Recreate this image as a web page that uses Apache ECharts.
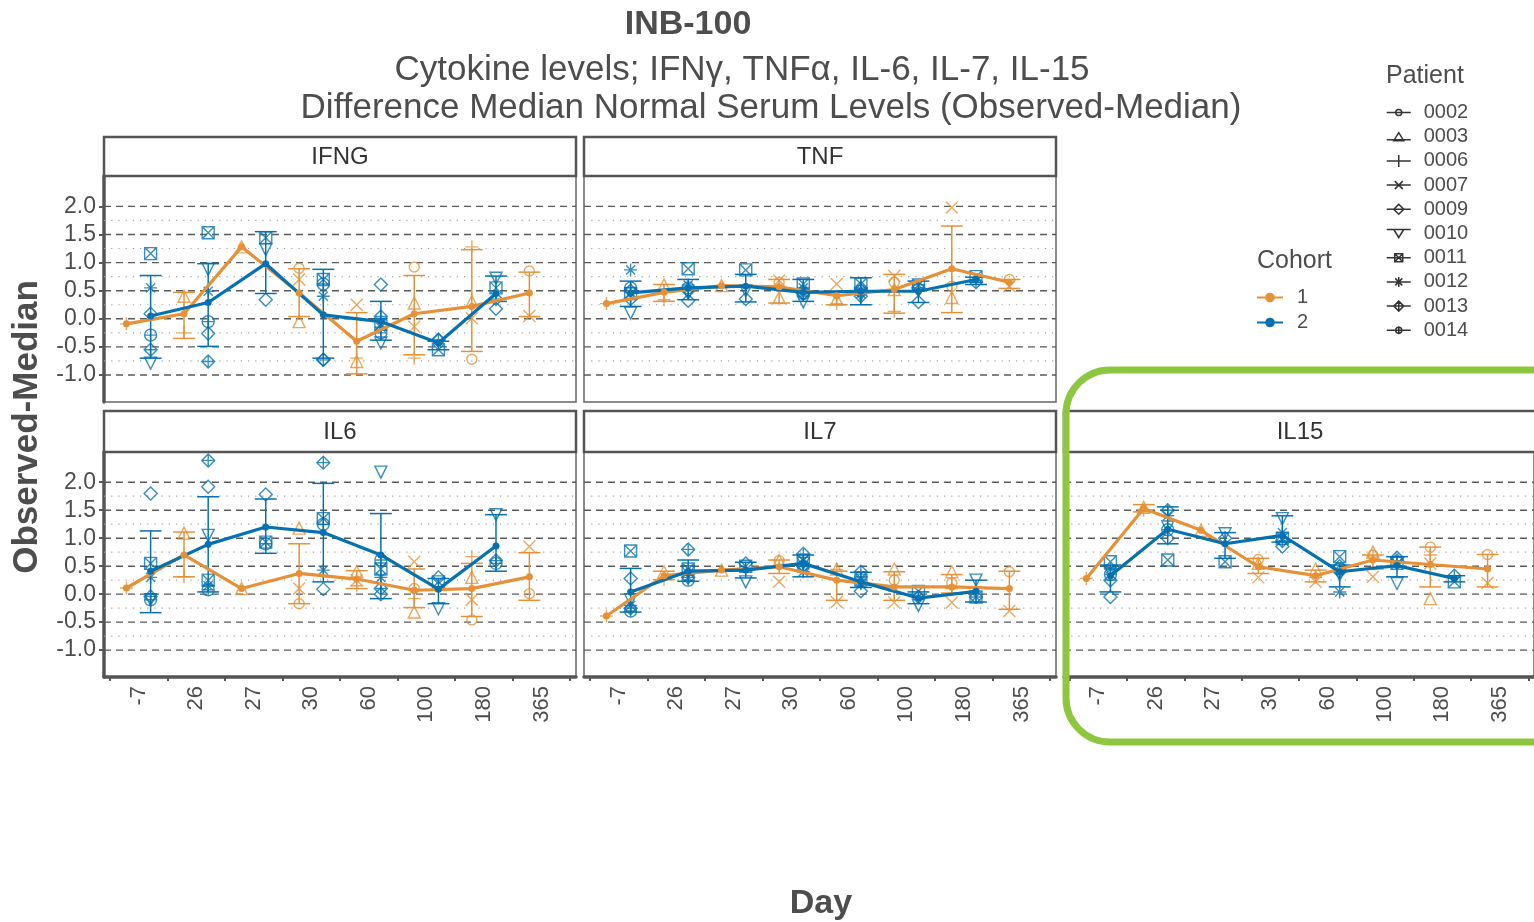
<!DOCTYPE html>
<html>
<head>
<meta charset="utf-8">
<script src="https://cdn.jsdelivr.net/npm/echarts@6.0.0/dist/echarts.min.js"></script>
<style>
  html, body { margin: 0; padding: 0; background: #fff; }
  #chart { width: 1534px; height: 922px; }
</style>
</head>
<body>
<div id="chart"></div>
<script>
// x categories (study day) and y breaks
const days = ['-7', '26', '27', '30', '60', '100', '180', '365'];
const majorBreaks = [2.0, 1.5, 1.0, 0.5, 0.0, -0.5, -1.0];
const minorBreaks = [1.75, 1.25, 0.75, 0.25, -0.25, -0.75];
const panelNames = ['IFNG', 'TNF', 'IL6', 'IL7', 'IL15'];
const patients = ['0002', '0003', '0006', '0007', '0009', '0010', '0011', '0012', '0013', '0014'];
const patientCohort = [1, 1, 1, 1, 2, 2, 2, 2, 2, 2];

// IFNG
const ifngMean1 = [-0.09, 0.09, 1.28, 0.46, -0.40, 0.09, 0.22, 0.46];
const ifngLo1 = [null, -0.35, null, 0.04, -0.98, -0.64, -0.58, 0.04];
const ifngHi1 = [null, 0.47, null, 0.89, 0.11, 0.77, 1.23, 0.83];
const ifngMean2 = [0.05, 0.29, 0.98, 0.07, -0.05, -0.43, 0.45, null];
const ifngLo2 = [-0.70, -0.49, 0.45, -0.70, -0.38, -0.55, 0.31, null];
const ifngHi2 = [0.77, 0.98, 1.55, 0.88, 0.31, -0.40, 0.76, null];
const ifngPts = [
  [null, null, null, 0.90, null, 0.92, -0.72, 0.85],
  [null, 0.40, 1.28, -0.05, -0.76, 0.28, 0.31, null],
  [-0.09, -0.25, null, null, -0.70, -0.70, 1.28, null],
  [null, null, null, 0.70, 0.25, -0.14, 0.01, 0.05],
  [0.09, -0.26, 0.34, -0.73, 0.61, -0.38, 0.18, null],
  [-0.79, 0.88, 1.23, null, -0.43, null, 0.72, null],
  [1.16, 1.53, 1.44, 0.70, -0.10, -0.55, 0.55, null],
  [0.55, 0.49, null, 0.40, -0.15, null, null, null],
  [-0.55, -0.76, null, -0.73, 0.04, -0.37, 0.35, null],
  [-0.29, -0.05, null, 0.62, -0.25, null, null, null]
];

// TNF
const tnfMean1 = [0.27, 0.47, 0.59, 0.57, 0.41, 0.52, 0.89, 0.65];
const tnfLo1 = [null, 0.31, null, 0.28, 0.25, 0.10, 0.11, 0.54];
const tnfHi1 = [null, 0.61, null, 0.70, 0.49, 0.79, 1.65, 0.70];
const tnfMean2 = [0.46, 0.55, 0.58, 0.47, 0.49, 0.49, 0.70, null];
const tnfLo2 = [0.22, 0.34, 0.30, 0.31, 0.25, 0.29, 0.61, null];
const tnfHi2 = [0.67, 0.70, 0.79, 0.70, 0.73, 0.67, 0.74, null];
const tnfPts = [
  [null, null, null, 0.65, null, 0.65, 0.58, 0.70],
  [null, 0.60, 0.59, 0.38, 0.35, 0.52, 0.38, null],
  [0.27, 0.34, null, null, 0.27, 0.13, 0.62, null],
  [null, null, null, 0.68, 0.62, 0.76, 1.98, 0.58],
  [0.50, 0.32, 0.35, 0.45, 0.40, 0.30, null, null],
  [0.10, 0.45, 0.50, 0.30, 0.42, 0.50, null, null],
  [0.45, 0.89, 0.87, 0.62, 0.62, 0.60, 0.75, null],
  [0.87, 0.60, null, 0.55, 0.45, null, null, null],
  [0.35, 0.50, null, 0.45, 0.55, 0.55, 0.65, null],
  [0.55, 0.55, null, 0.45, 0.50, null, null, null]
];

// IL6
const il6Mean1 = [0.11, 0.70, 0.10, 0.37, 0.27, 0.07, 0.10, 0.31];
const il6Lo1 = [null, 0.31, null, -0.17, 0.10, -0.24, -0.40, -0.11];
const il6Hi1 = [null, 1.11, null, 0.90, 0.42, 0.45, 0.55, 0.74];
const il6Mean2 = [0.41, 0.89, 1.20, 1.10, 0.70, 0.09, 0.86, null];
const il6Lo2 = [-0.33, 0.04, 0.73, 0.22, -0.08, -0.17, 0.41, null];
const il6Hi2 = [1.13, 1.74, 1.70, 1.98, 1.44, 0.28, 1.42, null];
const il6Pts = [
  [null, null, null, -0.17, null, 0.10, -0.46, 0.01],
  [null, 1.09, 0.10, 1.18, 0.40, -0.32, 0.30, null],
  [0.11, 0.31, null, null, 0.15, -0.08, 0.67, null],
  [null, null, null, 0.10, 0.25, 0.58, -0.10, 0.85],
  [1.80, 1.92, 1.78, 0.09, 0.00, 0.30, null, null],
  [-0.10, 1.05, null, null, 2.18, -0.26, 1.42, null],
  [0.55, 0.25, 0.93, 1.35, 0.45, 0.22, null, null],
  [0.30, 0.15, null, 0.43, 0.30, null, null, null],
  [-0.04, 2.39, null, 2.35, 0.10, null, 0.60, null],
  [-0.10, 0.08, 0.90, 1.25, 0.61, null, 0.55, null]
];

// IL7
const il7Mean1 = [-0.39, 0.33, 0.43, 0.49, 0.25, 0.13, 0.13, 0.10];
const il7Lo1 = [null, 0.26, null, 0.37, -0.11, -0.11, 0.02, -0.27];
const il7Hi1 = [null, 0.41, null, 0.61, 0.41, 0.40, 0.35, 0.41];
const il7Mean2 = [0.04, 0.41, 0.43, 0.55, 0.22, -0.07, 0.05, null];
const il7Lo2 = [-0.32, 0.23, 0.29, 0.31, 0.12, -0.17, -0.14, null];
const il7Hi2 = [0.46, 0.61, 0.57, 0.70, 0.39, 0.04, 0.25, null];
const il7Pts = [
  [null, null, null, 0.60, null, 0.25, 0.20, 0.40],
  [null, 0.40, 0.43, 0.60, 0.45, 0.45, 0.40, null],
  [-0.39, 0.26, null, null, 0.44, 0.05, 0.10, null],
  [null, null, null, 0.22, -0.14, -0.15, -0.15, -0.30],
  [0.28, 0.30, 0.55, 0.50, 0.05, null, null, null],
  [-0.10, 0.40, 0.22, 0.55, 0.20, -0.20, 0.25, null],
  [0.77, 0.45, 0.50, 0.60, 0.25, 0.05, -0.05, null],
  [-0.20, 0.30, null, 0.40, 0.20, null, null, null],
  [-0.25, 0.80, null, 0.72, 0.40, -0.05, -0.05, null],
  [-0.30, 0.25, null, 0.50, null, null, null, null]
];

// IL15
const il15Mean1 = [0.28, 1.53, 1.14, 0.49, 0.33, 0.61, 0.53, 0.45];
const il15Lo1 = [null, 1.47, null, 0.37, 0.22, 0.45, 0.13, 0.13];
const il15Hi1 = [null, 1.60, null, 0.64, 0.43, 0.70, 0.84, 0.71];
const il15Mean2 = [0.33, 1.16, 0.90, 1.05, 0.40, 0.51, 0.28, null];
const il15Lo2 = [0.04, 0.90, 0.64, 0.93, 0.13, 0.31, 0.22, null];
const il15Hi2 = [0.52, 1.56, 1.10, 1.40, 0.52, 0.67, 0.33, null];
const il15Pts = [
  [null, null, null, 0.62, null, 0.70, 0.84, 0.71],
  [null, 1.55, 1.14, 0.55, 0.45, 0.75, -0.08, null],
  [0.28, 1.50, null, null, 0.30, 0.68, 0.70, null],
  [null, null, null, 0.30, 0.22, 0.31, 0.55, 0.20],
  [-0.05, 1.00, 1.00, 0.85, 0.50, 0.65, null, null],
  [0.40, 1.20, 1.08, 1.35, 0.35, 0.19, null, null],
  [0.58, 0.61, 0.58, 1.00, 0.67, 0.55, 0.22, null],
  [0.45, 1.40, null, 1.10, 0.04, null, null, null],
  [0.25, 1.50, null, 0.95, 0.40, 0.60, 0.33, null],
  [0.35, 1.15, null, null, 0.45, null, null, null]
];

const panels = [
  { mean: [ifngMean1, ifngMean2], lo: [ifngLo1, ifngLo2], hi: [ifngHi1, ifngHi2], pts: ifngPts },
  { mean: [tnfMean1, tnfMean2], lo: [tnfLo1, tnfLo2], hi: [tnfHi1, tnfHi2], pts: tnfPts },
  { mean: [il6Mean1, il6Mean2], lo: [il6Lo1, il6Lo2], hi: [il6Hi1, il6Hi2], pts: il6Pts },
  { mean: [il7Mean1, il7Mean2], lo: [il7Lo1, il7Lo2], hi: [il7Hi1, il7Hi2], pts: il7Pts },
  { mean: [il15Mean1, il15Mean2], lo: [il15Lo1, il15Lo2], hi: [il15Hi1, il15Hi2], pts: il15Pts }
];

// layout / style
const cohortColors = ['#E69138', '#0571B0'];
const dodge = [-0.21, 0.21];
const boxes = [[104, 176, 472, 226], [584, 176, 472, 226], [104, 452, 472, 225], [584, 452, 472, 225], [1064, 452, 472, 225]];
const textColor = '#4D4D4D';
const font = '"Liberation Sans", Arial, sans-serif';

const plus = 'path://M5 0V10M0 5H10';
const cross = 'path://M0 0L10 10M10 0L0 10';
const downTri = 'path://M0 0H10L5 9Z';
const sqCross = 'path://M0 0H10V10H0ZM0 0L10 10M10 0L0 10';
const asterisk = 'path://M5 0V10M0 5H10M1.5 1.5L8.5 8.5M8.5 1.5L1.5 8.5';
const diamondPlus = 'path://M5 0L10 5L5 10L0 5ZM5 0V10M0 5H10';
const circlePlus = 'path://M0 5A5 5 0 1 0 10 5A5 5 0 1 0 0 5ZM5 0V10M0 5H10';
const patientSymbols = ['circle', 'triangle', plus, cross, 'diamond', downTri, sqCross, asterisk, diamondPlus, circlePlus];
const patientSizes = [10, 12, 13, 12, 13, 12, 12, 13, 13, 12];
const legendIcons = [
  'path://M0 6H24M9 6A3 3 0 1 0 15 6A3 3 0 1 0 9 6',
  'path://M0 8H24M12 1L17 9H7Z',
  'path://M0 6H24M12 0V12',
  'path://M0 6H24M8 2L16 10M16 2L8 10',
  'path://M0 6H24M12 1L17 6L12 11L7 6Z',
  'path://M0 3H24M7 3H17L12 11Z',
  'path://M0 6H24M8 2H16V10H8ZM8 2L16 10M16 2L8 10',
  'path://M0 6H24M12 1V11M8.5 2.5L15.5 9.5M15.5 2.5L8.5 9.5',
  'path://M0 6H24M12 1L17 6L12 11L7 6ZM12 1V11',
  'path://M0 6H24M9 6A3 3 0 1 0 15 6A3 3 0 1 0 9 6M12 2V10'
];

function xy(vals, off) {
  const out = [];
  vals.forEach(function (v, i) { if (v !== null) out.push([i + off, v]); });
  return out;
}
function bars(lo, hi, off) {
  const out = [];
  lo.forEach(function (v, i) { if (v !== null && hi[i] !== null) out.push([i + off, v, hi[i]]); });
  return out;
}

function gridRender(params, api) {
  const cs = params.coordSys;
  const y = api.coord([0, api.value(1)])[1];
  const minor = api.value(2) === 1;
  return {
    type: 'line',
    shape: { x1: cs.x, y1: y, x2: cs.x + cs.width, y2: y },
    style: minor
      ? { stroke: '#A0A0A0', lineWidth: 1.2, lineDash: [1.2, 6] }
      : { stroke: '#5A5A5A', lineWidth: 1.4, lineDash: [7, 5] }
  };
}

function errRender(color) {
  return function (params, api) {
    const x = api.value(0);
    const top = api.coord([x, api.value(2)]);
    const bot = api.coord([x, api.value(1)]);
    const hw = api.size([0.19, 0])[0];
    const st = { stroke: color, lineWidth: 1.5 };
    return {
      type: 'group',
      children: [
        { type: 'line', shape: { x1: top[0], y1: top[1], x2: bot[0], y2: bot[1] }, style: st },
        { type: 'line', shape: { x1: top[0] - hw, y1: top[1], x2: top[0] + hw, y2: top[1] }, style: st },
        { type: 'line', shape: { x1: bot[0] - hw, y1: bot[1], x2: bot[0] + hw, y2: bot[1] }, style: st }
      ]
    };
  };
}

const grids = [], xAxes = [], yAxes = [], series = [];

boxes.forEach(function (b, p) {
  const bottomRow = p >= 2;
  const leftCol = p === 0 || p === 2;
  grids.push({ left: b[0], top: b[1], width: b[2], height: b[3], show: true,
    backgroundColor: '#fff', borderColor: '#666', borderWidth: 1.5 });
  xAxes.push({
    gridIndex: p, type: 'value', min: -0.6, max: 7.6, show: bottomRow,
    axisLine: { show: true, onZero: false, lineStyle: { color: '#555', width: 3.5 } },
    axisTick: { show: true, length: 4, customValues: [-0.5, 0.5, 1.5, 2.5, 3.5, 4.5, 5.5, 6.5, 7.5],
      lineStyle: { color: '#555', width: 2 } },
    axisLabel: { customValues: [0, 1, 2, 3, 4, 5, 6, 7], rotate: 90, margin: 9,
      formatter: function (v) { return days[Math.round(v)]; },
      fontSize: 22, color: textColor, fontFamily: font },
    splitLine: { show: false }
  });
  yAxes.push({
    gridIndex: p, type: 'value', min: -1.48, max: 2.54,
    axisLine: { show: leftCol, onZero: false, lineStyle: { color: '#555', width: 3.5 } },
    axisTick: { show: leftCol, length: 5, customValues: majorBreaks, lineStyle: { color: '#555', width: 2 } },
    axisLabel: { show: leftCol, customValues: majorBreaks, margin: 8,
      formatter: function (v) { return v.toFixed(1); },
      fontSize: 23, color: textColor, fontFamily: font },
    splitLine: { show: false }
  });

  const d = panels[p];
  series.push({
    type: 'custom', xAxisIndex: p, yAxisIndex: p, silent: true, z: 1,
    data: majorBreaks.map(function (v) { return [0, v, 0]; })
      .concat(minorBreaks.map(function (v) { return [0, v, 1]; })),
    renderItem: gridRender
  });
  [0, 1].forEach(function (c) {
    series.push({
      type: 'custom', xAxisIndex: p, yAxisIndex: p, silent: true, z: 2,
      data: bars(d.lo[c], d.hi[c], dodge[c]), renderItem: errRender(cohortColors[c])
    });
  });
  patients.forEach(function (id, k) {
    const c = patientCohort[k] - 1;
    series.push({
      name: id, type: 'scatter', xAxisIndex: p, yAxisIndex: p, z: 3,
      symbol: patientSymbols[k], symbolSize: patientSizes[k],
      itemStyle: { color: 'rgba(0,0,0,0)', borderColor: cohortColors[c], borderWidth: 1.4 },
      data: xy(d.pts[k], dodge[c])
    });
  });
  [0, 1].forEach(function (c) {
    series.push({
      name: String(c + 1), type: 'line', xAxisIndex: p, yAxisIndex: p, z: 4,
      data: xy(d.mean[c], dodge[c]), connectNulls: true,
      symbol: 'circle', symbolSize: 7, showSymbol: true,
      lineStyle: { color: cohortColors[c], width: 3.2 },
      itemStyle: { color: cohortColors[c] }
    });
  });
});

const stripTops = [137, 137, 411, 411, 411];
const graphics = [];
boxes.forEach(function (b, p) {
  const h = b[1] - stripTops[p];
  graphics.push({ type: 'rect', z: 10, shape: { x: b[0], y: stripTops[p], width: b[2], height: h },
    style: { fill: '#fff', stroke: '#555', lineWidth: 2.5 } });
  graphics.push({ type: 'text', z: 11, x: b[0] + b[2] / 2, y: stripTops[p] + h / 2 + 1,
    style: { text: panelNames[p], font: '24px ' + font, fill: '#333', textAlign: 'center', textVerticalAlign: 'middle' } });
});
function label(text, x, y, size, bold, align, rot) {
  graphics.push({ type: 'text', z: 12, x: x, y: y, rotation: rot || 0,
    style: { text: text, font: (bold ? 'bold ' : '') + size + 'px ' + font, fill: textColor,
      textAlign: align || 'center', textVerticalAlign: 'middle' } });
}
label('INB-100', 688, 25, 34, true);
label('Cytokine levels; IFNγ, TNFα, IL-6, IL-7, IL-15', 742, 70, 35, false);
label('Difference Median Normal Serum Levels (Observed-Median)', 771, 108, 35, false);
label('Observed-Median', 27, 427, 35, true, 'center', Math.PI / 2);
label('Day', 821, 904, 34, true);
label('Cohort', 1257, 261, 25, false, 'left');
label('Patient', 1386, 76, 25, false, 'left');
graphics.push({ type: 'rect', z: 100, shape: { x: 1066, y: 370, width: 520, height: 372, r: 44 },
  style: { fill: 'none', stroke: '#8DC63F', lineWidth: 7 } });

const chart = echarts.init(document.getElementById('chart'));
chart.setOption({
  animation: false,
  backgroundColor: '#fff',
  grid: grids,
  xAxis: xAxes,
  yAxis: yAxes,
  legend: [
    { data: ['1', '2'], orient: 'vertical', left: 1256, top: 287, padding: 0,
      itemWidth: 26, itemHeight: 12, itemGap: 4, selectedMode: false,
      textStyle: { fontSize: 20, lineHeight: 21, color: textColor, fontFamily: font, padding: [0, 0, 0, 9] } },
    { data: patients.map(function (id, k) { return { name: id, icon: legendIcons[k] }; }),
      orient: 'vertical', left: 1386, top: 102, padding: 0,
      itemWidth: 24, itemHeight: 12, itemGap: 3.2, selectedMode: false,
      itemStyle: { color: 'rgba(0,0,0,0)', borderColor: '#000', borderWidth: 1.5 },
      textStyle: { fontSize: 20, lineHeight: 21, color: textColor, fontFamily: font, padding: [0, 0, 0, 8] } }
  ],
  graphic: graphics,
  series: series
});
</script>
</body>
</html>
